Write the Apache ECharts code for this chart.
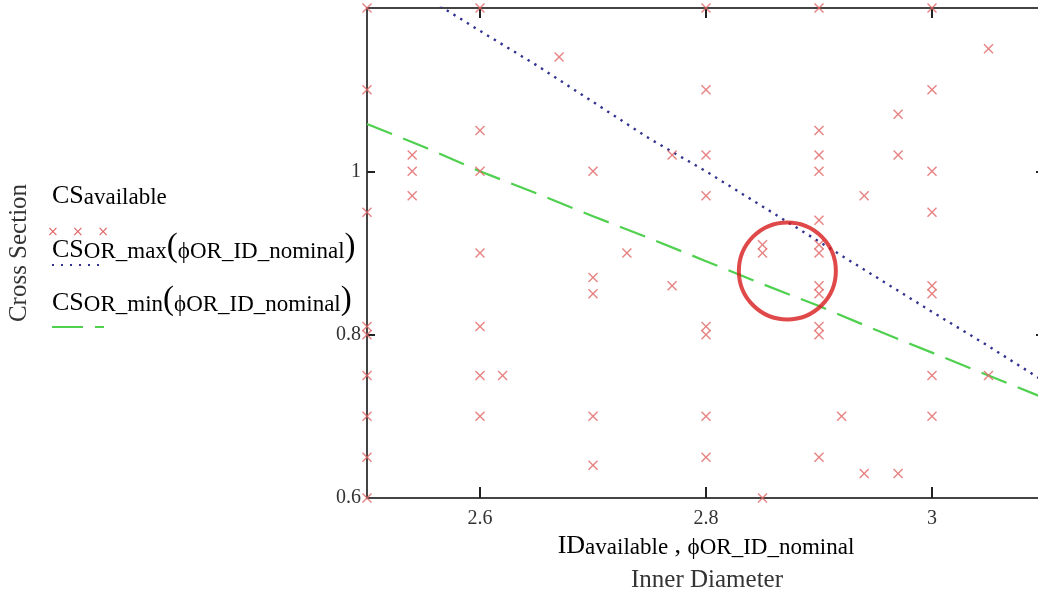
<!DOCTYPE html>
<html>
<head>
<meta charset="utf-8">
<title>Cross Section vs Inner Diameter</title>
<script src="https://cdn.jsdelivr.net/npm/echarts@6/dist/echarts.min.js"></script>
<style>
  html, body { margin: 0; padding: 0; background: #fff; }
  #chart { width: 1038px; height: 598px; }
</style>
</head>
<body>
<div id="chart"></div>
<script>
// available O-rings (inner diameter, cross section)
var idAvailable = [
  2.5, 2.5, 2.5, 2.5, 2.5, 2.5, 2.5, 2.5, 2.5,
  2.54, 2.54, 2.54,
  2.6, 2.6, 2.6, 2.6, 2.6, 2.6, 2.6,
  2.62, 2.67,
  2.7, 2.7, 2.7, 2.7, 2.7,
  2.73, 2.77, 2.77,
  2.8, 2.8, 2.8, 2.8, 2.8, 2.8, 2.8, 2.8,
  2.85, 2.85, 2.85,
  2.9, 2.9, 2.9, 2.9, 2.9, 2.9, 2.9, 2.9, 2.9, 2.9, 2.9, 2.9,
  2.92, 2.94, 2.94, 2.97, 2.97, 2.97,
  3.0, 3.0, 3.0, 3.0, 3.0, 3.0, 3.0, 3.0,
  3.05, 3.05
];
var csAvailable = [
  1.2, 1.1, 0.95, 0.81, 0.8, 0.75, 0.7, 0.65, 0.6,
  1.02, 1.0, 0.97,
  1.2, 1.05, 1.0, 0.9, 0.81, 0.75, 0.7,
  0.75, 1.14,
  1.0, 0.87, 0.85, 0.7, 0.64,
  0.9, 1.02, 0.86,
  1.2, 1.1, 1.02, 0.97, 0.81, 0.8, 0.7, 0.65,
  0.91, 0.9, 0.6,
  1.2, 1.05, 1.02, 1.0, 0.94, 0.91, 0.9, 0.86, 0.85, 0.81, 0.8, 0.65,
  0.7, 0.97, 0.63, 1.07, 1.02, 0.63,
  1.2, 1.1, 1.0, 0.95, 0.86, 0.85, 0.75, 0.7,
  1.15, 0.75
];

// nominal ID and the max / min cross section curves
var phiNominal = [2.5, 2.55, 2.6, 2.65, 2.7, 2.75, 2.8, 2.85, 2.9, 2.95, 3.0, 3.05, 3.1];
var csMax = [1.26, 1.215, 1.172, 1.13, 1.085, 1.04, 1.0, 0.957, 0.914, 0.871, 0.828, 0.786, 0.742];
var csMin = [1.058, 1.03, 1.0, 0.973, 0.945, 0.918, 0.89, 0.862, 0.835, 0.806, 0.778, 0.75, 0.722];

// highlighted region
var circleCenter = [[2.872, 0.878]];

var xTicks = [2.6, 2.8, 3.0];
var yTicks = [0.8, 1.0];
var yLabels = [0.6, 0.8, 1.0];

var serif = "'Liberation Serif', 'Times New Roman', serif";
var crossPath = 'path://M0,1L1,0L5,4L9,0L10,1L6,5L10,9L9,10L5,6L1,10L0,9L4,5Z';

function pairs(xs, ys) {
  return xs.map(function (x, i) { return [x, ys[i]]; });
}

var chart = echarts.init(document.getElementById('chart'));

var richText = {
  m: { fontFamily: serif, fontSize: 26, color: '#1a1a1a', lineHeight: 30, verticalAlign: 'bottom' },
  s: { fontFamily: serif, fontSize: 23, color: '#1a1a1a', lineHeight: 22, verticalAlign: 'bottom' },
  p: { fontFamily: serif, fontSize: 33, color: '#666', lineHeight: 31, verticalAlign: 'bottom' }
};

var option = {
  backgroundColor: '#fff',
  animation: false,
  grid: { left: 367, top: 8, width: 678, height: 490, outerBoundsMode: 'none', containLabel: false },
  xAxis: [{
    type: 'value', min: 2.5, max: 3.1,
    axisLine: { lineStyle: { color: '#444', width: 2 } },
    axisTick: { inside: true, length: 11, customValues: xTicks, lineStyle: { color: '#222', width: 2 } },
    axisLabel: { customValues: xTicks, margin: 11, fontFamily: serif, fontSize: 20, color: '#333' },
    splitLine: { show: false }
  }, {
    type: 'value', min: 2.5, max: 3.1, position: 'top',
    axisLine: { show: true, lineStyle: { color: '#444', width: 2 } },
    axisTick: { inside: true, length: 10, customValues: xTicks, lineStyle: { color: '#222', width: 2 } },
    axisLabel: { show: false },
    splitLine: { show: false }
  }],
  yAxis: [{
    type: 'value', min: 0.6, max: 1.2,
    axisLine: { show: true, lineStyle: { color: '#444', width: 2 } },
    axisTick: { show: true, inside: true, length: 8, customValues: yTicks, lineStyle: { color: '#222', width: 2 } },
    axisLabel: { customValues: yLabels, margin: 6, fontFamily: serif, fontSize: 20, color: '#333' },
    splitLine: { show: false }
  }, {
    type: 'value', min: 0.6, max: 1.2, position: 'right',
    axisLine: { show: true, lineStyle: { color: '#444', width: 2 } },
    axisTick: { show: true, inside: true, length: 9, customValues: yTicks, lineStyle: { color: '#222', width: 2 } },
    axisLabel: { show: false },
    splitLine: { show: false }
  }],
  series: [{
    name: 'CS_OR_max',
    type: 'line',
    data: pairs(phiNominal, csMax),
    showSymbol: false,
    lineStyle: { color: '#33338f', width: 2.4, type: [2.4, 5.5] },
    z: 2
  }, {
    name: 'CS_OR_min',
    type: 'line',
    data: pairs(phiNominal, csMin),
    showSymbol: false,
    lineStyle: { color: '#4fd04f', width: 2.2, type: [27, 12] },
    z: 2
  }, {
    name: 'CS_available',
    type: 'scatter',
    data: pairs(idAvailable, csAvailable),
    symbol: crossPath,
    symbolSize: 10,
    itemStyle: { color: '#e06464' },
    z: 3
  }, {
    name: 'highlight',
    type: 'scatter',
    data: circleCenter,
    symbol: 'circle',
    symbolSize: 97,
    silent: true,
    itemStyle: { color: 'rgba(0,0,0,0)', borderColor: '#d81c1c', borderWidth: 4 },
    z: 4
  }],
  graphic: [
    // y axis title
    { type: 'text', x: 19, y: 253, rotation: Math.PI / 2,
      style: { text: 'Cross Section', fontFamily: serif, fontSize: 25, fill: '#333', align: 'center', verticalAlign: 'middle' } },
    // legend
    { type: 'text', x: 52, y: 194,
      style: { text: '{m|CS}{s|available}', rich: richText, align: 'left', verticalAlign: 'middle' } },
    { type: 'text', x: 47, y: 232,
      style: { text: '×   ×   ×', fontFamily: 'DejaVu Sans', fontSize: 14, fill: '#e06464', align: 'left', verticalAlign: 'middle' } },
    { type: 'text', x: 52, y: 248,
      style: { text: '{m|CS}{s|OR_max}{p|(}{s|ϕOR_ID_nominal}{p|)}', rich: richText, align: 'left', verticalAlign: 'middle' } },
    { type: 'line', shape: { x1: 52, y1: 265, x2: 100, y2: 265 },
      style: { stroke: '#33338f', lineWidth: 2, lineDash: [2, 7] } },
    { type: 'text', x: 52, y: 301,
      style: { text: '{m|CS}{s|OR_min}{p|(}{s|ϕOR_ID_nominal}{p|)}', rich: richText, align: 'left', verticalAlign: 'middle' } },
    { type: 'line', shape: { x1: 52, y1: 327, x2: 104, y2: 327 },
      style: { stroke: '#4fd04f', lineWidth: 2, lineDash: [31, 12] } },
    // x axis title
    { type: 'text', x: 706, y: 544,
      style: { text: '{m|ID}{s|available}{m| , }{s|ϕOR_ID_nominal}', rich: richText, align: 'center', verticalAlign: 'middle' } },
    { type: 'text', x: 707, y: 580,
      style: { text: 'Inner Diameter', fontFamily: serif, fontSize: 25, fill: '#333', align: 'center', verticalAlign: 'middle' } }
  ]
};

chart.setOption(option);
</script>
</body>
</html>
